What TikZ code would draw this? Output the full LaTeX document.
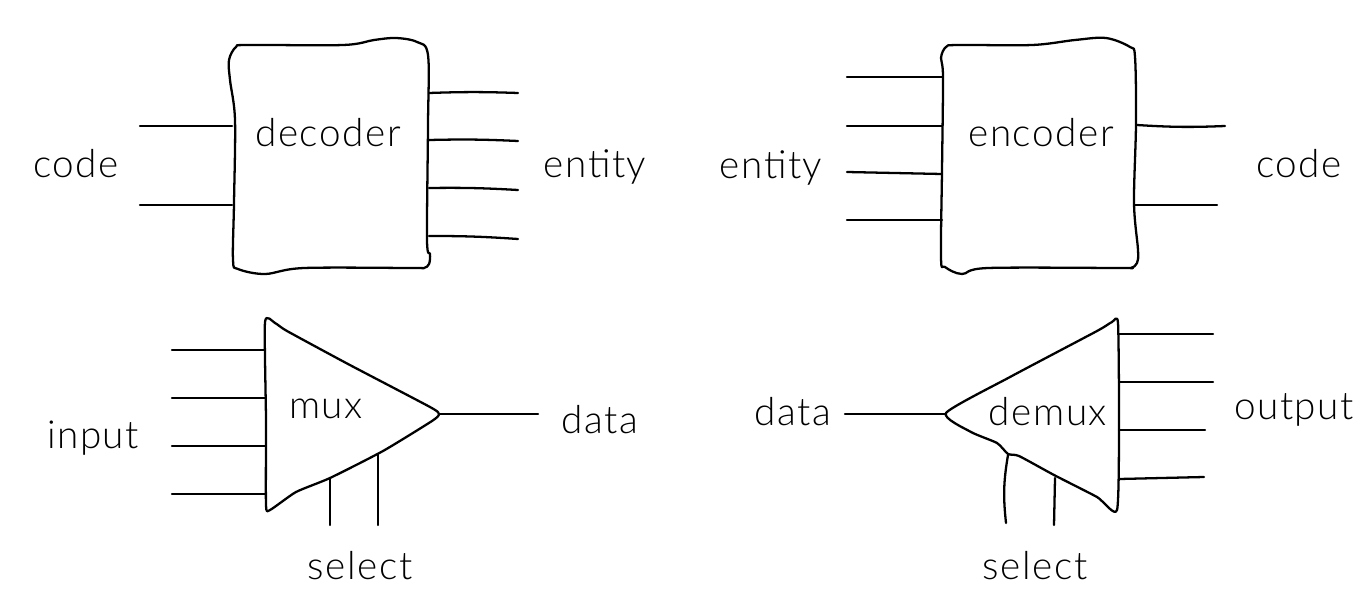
\documentclass[tikz,border=0pt]{standalone}
\usepackage{fontspec}
\setmainfont{Lato}[UprightFont=* Light,LetterSpace=4]
\usepackage{tikz}
\tikzset{
  wire/.style={line width=1.3pt, line cap=round, line join=round},
  label/.style={anchor=base, inner sep=0pt, font=\fontsize{22}{26}\selectfont},
}

\begin{document}
\begin{tikzpicture}[x=.02cm, y=-.02cm]
\useasboundingbox (0,0) rectangle (1364,608);
% decoder
\draw[wire] plot[smooth cycle, tension=.55] coordinates {(248,45) (236,47) (229,60) (230,80) (235,120) (234,203) (233,260) (238,269) (265,274) (304,268) (412,268) (424,268) (429,264) (430,254) (427,240) (428,125) (428,55) (417,42) (396,38) (374,40) (343,45)};
\node[label] (decoder) at (328,146) {decoder};
\node[label] (deccode) at (76,177) {code};
\node[label] (decentity) at (595,177) {entity};
\foreach \y [count=\i] in {126,205} {
  \coordinate (decin\i) at (232,\y);
  \coordinate (decfree\i) at (140,\y);
  \draw[wire] (decfree\i) -- (decin\i);
}
\foreach \y/\ye [count=\i] in {93/93,140/141,188/190,236/239} {
  \coordinate (decout\i) at (429,\y);
  \coordinate (decend\i) at (518,\ye);
  \draw[wire] (decout\i) to[bend left=2] (decend\i);
}
% encoder
\draw[wire] plot[smooth cycle, tension=.55] coordinates {(958,45) (946,47) (941,58) (943,77) (942,170) (941,258) (945,267) (962,274) (988,268) (1120,268) (1131,268) (1137,263) (1138,250) (1134,203) (1136,123) (1135,57) (1130,47) (1106,38) (1075,40) (1032,45)};
\node[label] (encoder) at (1041,146) {encoder};
\node[label] (encentity) at (771,178) {entity};
\node[label] (enccode) at (1299,177) {code};
\foreach \y/\ye [count=\i] in {77/77,126/126,172/174,220/220} {
  \coordinate (encfree\i) at (847,\y);
  \coordinate (encin\i) at (942,\ye);
  \draw[wire] (encfree\i) -- (encin\i);
}
\coordinate (encout1) at (1137,125);
\coordinate (encend1) at (1225,126);
\coordinate (encout2) at (1135,205);
\coordinate (encend2) at (1217,205);
\draw[wire] (encout1) to[bend right=3] (encend1);
\draw[wire] (encout2) -- (encend2);
% mux
\draw[wire] plot[smooth cycle, tension=.35] coordinates {(265,322) (275,323) (287,331) (348,364) (430,407) (439,414) (432,421) (383,451) (330,478) (296,492) (270,510) (266,505) (266,420)};
\node[label] (mux) at (326,418) {mux};
\node[label] (muxinput) at (93,448) {input};
\node[label] (muxdata) at (600,433) {data};
\node[label] (muxselect) at (360,579) {select};
\foreach \y [count=\i] in {350,398,446,494} {
  \coordinate (muxfree\i) at (172,\y);
  \coordinate (muxin\i) at (265,\y);
  \draw[wire] (muxfree\i) -- (muxin\i);
}
\coordinate (muxtip) at (440,414);
\coordinate (muxend) at (538,414);
\draw[wire] (muxtip) -- (muxend);
\foreach \x/\y [count=\i] in {330/479,378/454} {
  \coordinate (muxsel\i) at (\x,\y);
  \coordinate (muxselend\i) at (\x,525);
  \draw[wire] (muxsel\i) -- (muxselend\i);
}
% demux
\draw[wire] plot[smooth cycle, tension=.35] coordinates {(946,413) (1010,377) (1097,331) (1112,322) (1118,323) (1119,420) (1117,510) (1097,497) (1054,475) (1019,456) (1008,454) (997,443) (971,432)};
\node[label] (demux) at (1048,425) {demux};
\node[label] (demuxdata) at (793,425) {data};
\node[label] (demuxoutput) at (1294,419) {output};
\node[label] (demuxselect) at (1035,579) {select};
\coordinate (demuxfree) at (845,414);
\coordinate (demuxtip) at (945,414);
\draw[wire] (demuxfree) -- (demuxtip);
\foreach \y/\ye/\xe [count=\i] in {334/334/1213,382/382/1213,430/430/1205,479/477/1204} {
  \coordinate (demuxout\i) at (1119,\y);
  \coordinate (demuxend\i) at (\xe,\ye);
  \draw[wire] (demuxout\i) -- (demuxend\i);
}
\coordinate (demuxsel1) at (1008,455);
\coordinate (demuxselend1) at (1006,523);
\coordinate (demuxsel2) at (1055,478);
\coordinate (demuxselend2) at (1054,525);
\draw[wire] (demuxsel1) to[bend right=8] (demuxselend1);
\draw[wire] (demuxsel2) -- (demuxselend2);
\end{tikzpicture}
\end{document}
